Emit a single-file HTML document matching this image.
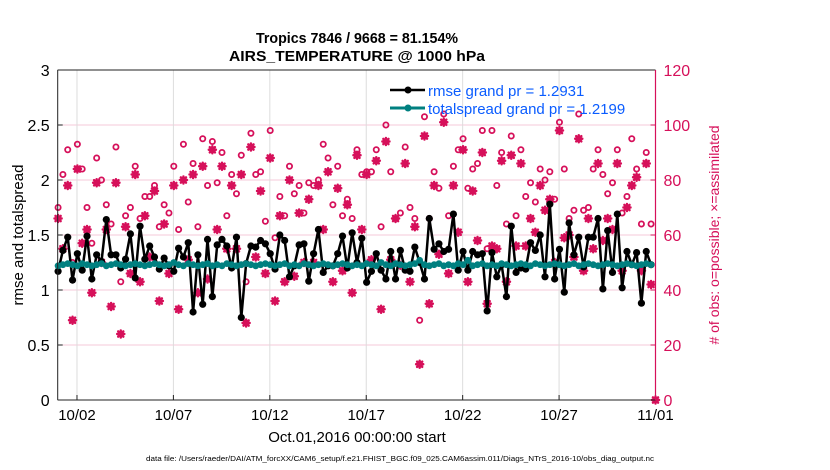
<!DOCTYPE html>
<html><head><meta charset="utf-8"><style>
html,body{margin:0;padding:0;background:#fff;}
svg{display:block;font-family:"Liberation Sans",Arial,sans-serif;}
</style></head><body>
<svg id="chart" width="830" height="470" viewBox="0 0 830 470" xmlns="http://www.w3.org/2000/svg">
<g id="grid"></g>
<g id="series"></g>
<g id="axes"></g>
<text x="357" y="43" text-anchor="middle" font-size="15" font-weight="bold" textLength="202" lengthAdjust="spacingAndGlyphs">Tropics 7846 / 9668 = 81.154%</text>
<text x="357" y="61" text-anchor="middle" font-size="15" font-weight="bold" textLength="256" lengthAdjust="spacingAndGlyphs">AIRS_TEMPERATURE @ 1000 hPa</text>
<text transform="translate(23,235) rotate(-90)" text-anchor="middle" font-size="15">rmse and totalspread</text>
<text transform="translate(719,235) rotate(-90)" text-anchor="middle" font-size="14" fill="#d6105a"># of obs: o=possible; ×=assimilated</text>
<text x="357" y="442" text-anchor="middle" font-size="15">Oct.01,2016 00:00:00 start</text>
<text x="146" y="461" font-size="7.6" textLength="508" lengthAdjust="spacingAndGlyphs">data file: /Users/raeder/DAI/ATM_forcXX/CAM6_setup/f.e21.FHIST_BGC.f09_025.CAM6assim.011/Diags_NTrS_2016-10/obs_diag_output.nc</text>
<g>
<g>
<line x1="390" y1="90" x2="425" y2="90" stroke="#000" stroke-width="2.5"/><circle cx="408" cy="90" r="3.5" fill="#000"/>
<text x="428" y="96" font-size="15" fill="#0a5cff">rmse grand pr = 1.2931</text></g>
<g>
<line x1="390" y1="108" x2="425" y2="108" stroke="#008080" stroke-width="3"/><circle cx="408" cy="108" r="3.5" fill="#008080"/>
<text x="428" y="114" font-size="15" fill="#0a5cff">totalspread grand pr = 1.2199</text></g>
</g>
</svg>
<script>
const rmse=[1.17,1.36,1.48,1.09,1.33,1.18,1.49,1.10,1.32,1.26,1.64,1.32,1.32,1.20,1.28,1.51,1.11,1.58,1.28,1.40,1.30,1.19,1.29,1.22,1.17,1.38,1.30,1.43,0.80,1.32,0.87,1.46,0.94,1.41,1.46,1.40,1.20,1.48,0.75,1.24,1.40,
1.39,1.45,1.42,1.33,1.19,1.50,1.45,1.12,1.22,1.41,1.42,1.08,1.33,1.55,1.16,1.22,1.22,1.33,1.49,1.20,1.52,1.25,1.47,1.07,1.17,1.33,1.18,1.10,1.35,1.10,1.36,1.18,1.17,1.39,1.25,1.10,1.65,1.37,1.42,1.35,1.37,1.69,
1.18,1.35,1.18,1.35,1.32,1.33,0.81,1.34,1.12,1.23,0.94,1.58,1.16,1.20,1.19,1.43,1.36,1.50,1.12,1.78,1.10,1.37,0.98,1.61,1.32,1.48,1.21,1.48,1.48,1.65,1.01,1.54,1.16,1.69,1.02,1.35,1.23,1.34,0.88,1.35,1.23];
const spread=[1.22,1.23,1.24,1.23,1.22,1.24,1.23,1.22,1.23,1.24,1.22,1.23,1.24,1.23,1.22,1.23,1.24,1.23,1.22,1.23,1.24,1.23,1.22,1.23,1.25,1.23,1.22,1.24,1.23,1.22,1.23,1.24,1.22,1.23,1.22,1.24,1.23,1.22,1.23,1.24,1.23,
1.22,1.23,1.24,1.23,1.22,1.23,1.24,1.22,1.23,1.22,1.24,1.23,1.22,1.23,1.24,1.23,1.22,1.23,1.24,1.23,1.22,1.23,1.22,1.24,1.23,1.22,1.25,1.23,1.22,1.24,1.23,1.22,1.23,1.24,1.27,1.23,1.22,1.23,1.24,1.22,1.23,1.22,
1.24,1.23,1.27,1.22,1.23,1.24,1.22,1.23,1.22,1.24,1.23,1.22,1.23,1.24,1.23,1.22,1.24,1.23,1.22,1.23,1.24,1.23,1.22,1.23,1.24,1.22,1.23,1.24,1.23,1.22,1.23,1.24,1.23,1.22,1.23,1.24,1.23,1.22,1.23,1.24,1.23];
const possible=[70,82,91,50,93,84,70,57,88,80,71,64,92,43,67,70,85,66,74,74,78,63,71,68,85,62,93,72,86,63,95,78,94,79,90,67,82,75,89,43,97,82,83,65,98,59,74,67,85,75,78,68,79,78,80,93,88,71,85,67,73,66,
91,82,83,83,91,63,100,83,66,68,92,70,66,29,103,66,83,77,104,67,85,91,
95,77,84,86,98,55,98,78,90,64,96,67,91,74,79,72,84,80,83,73,101,84,66,69,104,69,70,84,91,82,75,79,91,68,74,95,84,64,90,64];
const assimilated=[66,55,78,29,84,57,62,39,79,50,62,34,79,24,63,46,82,43,67,52,76,36,64,46,78,33,80,51,82,39,85,44,91,62,85,55,78,55,82,28,92,52,76,46,88,36,67,43,80,45,68,50,73,50,78,62,83,43,77,47,71,39,
89,62,82,51,87,33,94,51,66,49,86,43,63,13,96,35,78,53,101,46,78,61,
91,43,76,58,90,35,56,55,87,43,89,56,86,56,66,61,78,69,73,50,98,59,60,52,95,47,66,55,86,58,66,62,86,47,70,78,81,47,86,42];
const xTickLabels=["10/02","10/07","10/12","10/17","10/22","10/27","11/01"];
const xTickDays=[1,6,11,16,21,26,31];
const yTicks=[0,0.5,1,1.5,2,2.5,3];
const yTickLabels=["0","0.5","1","1.5","2","2.5","3"];
const rTicks=[0,20,40,60,80,100,120];

const X0=57.7,X1=655.5,Y0=400,Y1=70,DAYS=31,STEP=0.25;
const xs=d=>X0+(d/DAYS)*(X1-X0);
const ys=v=>Y0-(v/3)*(Y0-Y1);
const yr=v=>Y0-(v/120)*(Y0-Y1);
const NS="http://www.w3.org/2000/svg";
function mk(tag,attrs,parent){const e=document.createElementNS(NS,tag);for(const k in attrs)e.setAttribute(k,attrs[k]);parent.appendChild(e);return e;}
const grid=document.getElementById('grid'),series=document.getElementById('series'),axes=document.getElementById('axes');
const CR="#d6105a";
yTicks.forEach((t,i)=>{const y=ys(t);
 if(i>0&&i<yTicks.length-1){const g=mk('line',{x1:X0,x2:X1,y1:y,y2:y,stroke:'#f5cad9','stroke-width':1},grid);
 
 }
 mk('line',{x1:X0,x2:X0+5,y1:y,y2:y,stroke:'#222','stroke-width':1},axes);
 const t2=mk('text',{x:X0-8,y:y+6,'text-anchor':'end','font-size':16},axes);t2.textContent=yTickLabels[i];
 
 });
rTicks.forEach(t=>{const y=yr(t);
 mk('line',{x1:X1-5,x2:X1,y1:y,y2:y,stroke:CR,'stroke-width':1},axes);
 const t2=mk('text',{x:X1+8,y:y+6,'font-size':16,fill:CR},axes);t2.textContent=String(t);
 
 });
xTickDays.forEach((d,i)=>{const x=xs(d);
 if(i<xTickDays.length-1){const g=mk('line',{x1:x,x2:x,y1:Y1,y2:Y0,stroke:'#dcdcdc','stroke-width':1},grid);
 
 }
 mk('line',{x1:x,x2:x,y1:Y0,y2:Y0-5,stroke:'#222','stroke-width':1},axes);
 const t2=mk('text',{x:x,y:420,'text-anchor':'middle','font-size':15},axes);t2.textContent=xTickLabels[i];
 
 });
mk('line',{x1:X0,x2:X1,y1:Y1,y2:Y1,stroke:'#222','stroke-width':1},axes);
mk('line',{x1:X0,x2:X1,y1:Y0,y2:Y0,stroke:'#222','stroke-width':1},axes);
mk('line',{x1:X0,x2:X0,y1:Y1,y2:Y0,stroke:'#222','stroke-width':1},axes);
mk('line',{x1:X1,x2:X1,y1:Y1,y2:Y0,stroke:CR,'stroke-width':1.2},axes);
function star(x,y,p,name){const g=mk('g',{},p);
 
 
 const s=3.6;
 mk('path',{d:`M${x-s},${y}H${x+s}M${x},${y-s}V${y+s}M${x-s*.72},${y-s*.72}L${x+s*.72},${y+s*.72}M${x-s*.72},${y+s*.72}L${x+s*.72},${y-s*.72}`,stroke:CR,'stroke-width':2.4,'stroke-linecap':'round'},g);}
const obsG=mk('g',{},series);


possible.forEach((v,i)=>{const c=mk('circle',{cx:xs(i*STEP+0.02),cy:yr(v),r:2.6,fill:'none',stroke:CR,'stroke-width':1.8},obsG);
 
 });
assimilated.forEach((v,i)=>{star(xs(i*STEP+0.02),yr(v),obsG,'assimilated-obs-marker');});
star(X1,Y0,obsG,'obs-axis-end-marker');
function lineSeries(arr,color,w,r,name){const g=mk('g',{},series);
 
 
 const pts=arr.map((v,i)=>xs(i*STEP+0.02).toFixed(1)+','+ys(v).toFixed(1)).join(' ');
 const pl=mk('polyline',{points:pts,fill:'none',stroke:color,'stroke-width':w,'stroke-linejoin':'round'},g);
 
 
 arr.forEach((v,i)=>{const c=mk('circle',{cx:xs(i*STEP+0.02),cy:ys(v),r:r,fill:color},g);
 
 });}
lineSeries(rmse,'#000',2.5,3.6,'rmse-series');
lineSeries(spread,'#008080',3,3.4,'totalspread-series');
</script>
</body></html>
